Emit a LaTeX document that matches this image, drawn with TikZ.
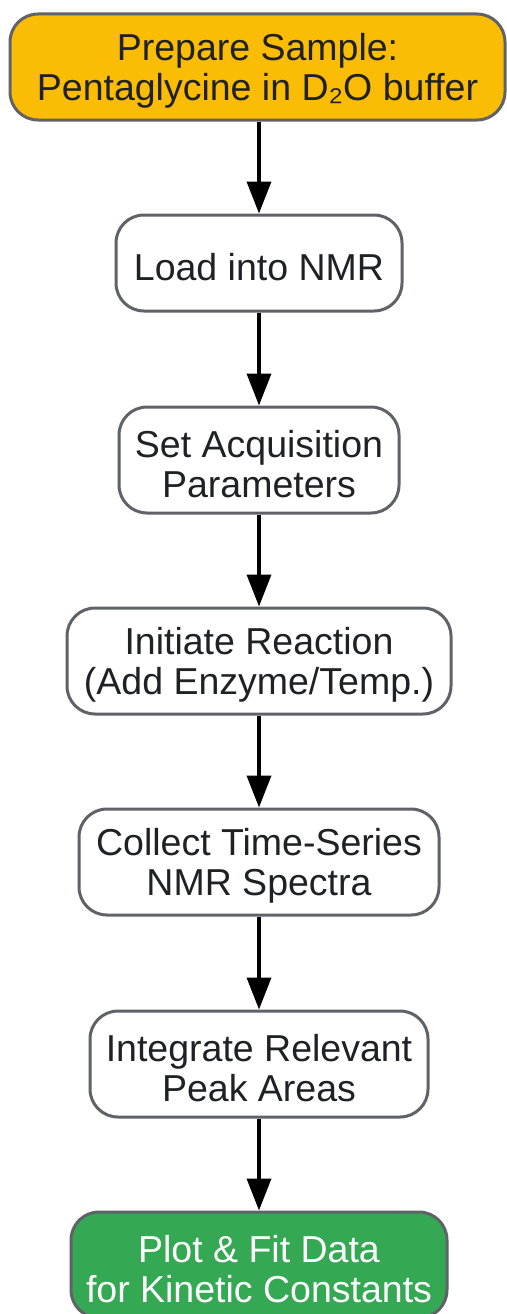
\documentclass[tikz,border=0pt]{standalone}
\usepackage{fontspec}
\setmainfont{Liberation Sans}
\usetikzlibrary{arrows.meta}
\definecolor{prepyellow}{HTML}{FBBC05}
\definecolor{fitgreen}{HTML}{34A853}
\definecolor{edgegray}{HTML}{5F6368}
\definecolor{textdark}{HTML}{202124}
\newcommand{\tallstrut}{\rule{0pt}{35pt}}
\begin{document}
\begin{tikzpicture}
        [
            x=1pt, y=1pt,
            stepbox/.style={rectangle, rounded corners=28pt, line width=3pt, draw=edgegray, fill=white, text=textdark, align=center, font=\fontsize{37.5}{40}\selectfont},
            flow/.style={-{Triangle[length=32pt, width=24pt]}, line width=3.6pt, black}
        ]
        \useasboundingbox (0,0) rectangle (506,-1314);
        % Sample
        \node[stepbox, fill=prepyellow, minimum width=495pt, minimum height=106pt] (prep) at (257.5,-67) {\tallstrut Prepare Sample:\\Pentaglycine in D₂O buffer};
        % NMR setup
        \node[stepbox, minimum width=286pt, minimum height=96pt] (load) at (259,-263) {\tallstrut Load into NMR};
        \node[stepbox, minimum width=280pt, minimum height=106pt] (params) at (259,-460) {\tallstrut Set Acquisition\\Parameters};
        % Reaction
        \node[stepbox, minimum width=384pt, minimum height=106pt] (start) at (259,-661) {\tallstrut Initiate Reaction\\(Add Enzyme/Temp.)};
        \node[stepbox, minimum width=360pt, minimum height=106pt] (collect) at (259,-862) {\tallstrut Collect Time-Series\\NMR Spectra};
        % Analysis
        \node[stepbox, minimum width=338pt, minimum height=106pt] (integ) at (259,-1064) {\tallstrut Integrate Relevant\\Peak Areas};
        \node[stepbox, fill=fitgreen, text=white, minimum width=376pt, minimum height=106pt] (fit) at (259,-1265) {\tallstrut Plot \& Fit Data\\for Kinetic Constants};
        % Arrows
        \draw[flow] (prep.south -| load.north) -- (load.north);
        \draw[flow] (load) -- (params);
        \draw[flow] (params) -- (start);
        \draw[flow] (start) -- (collect);
        \draw[flow] (collect) -- (integ);
        \draw[flow] (integ) -- (fit);
    \end{tikzpicture}
\end{document}
